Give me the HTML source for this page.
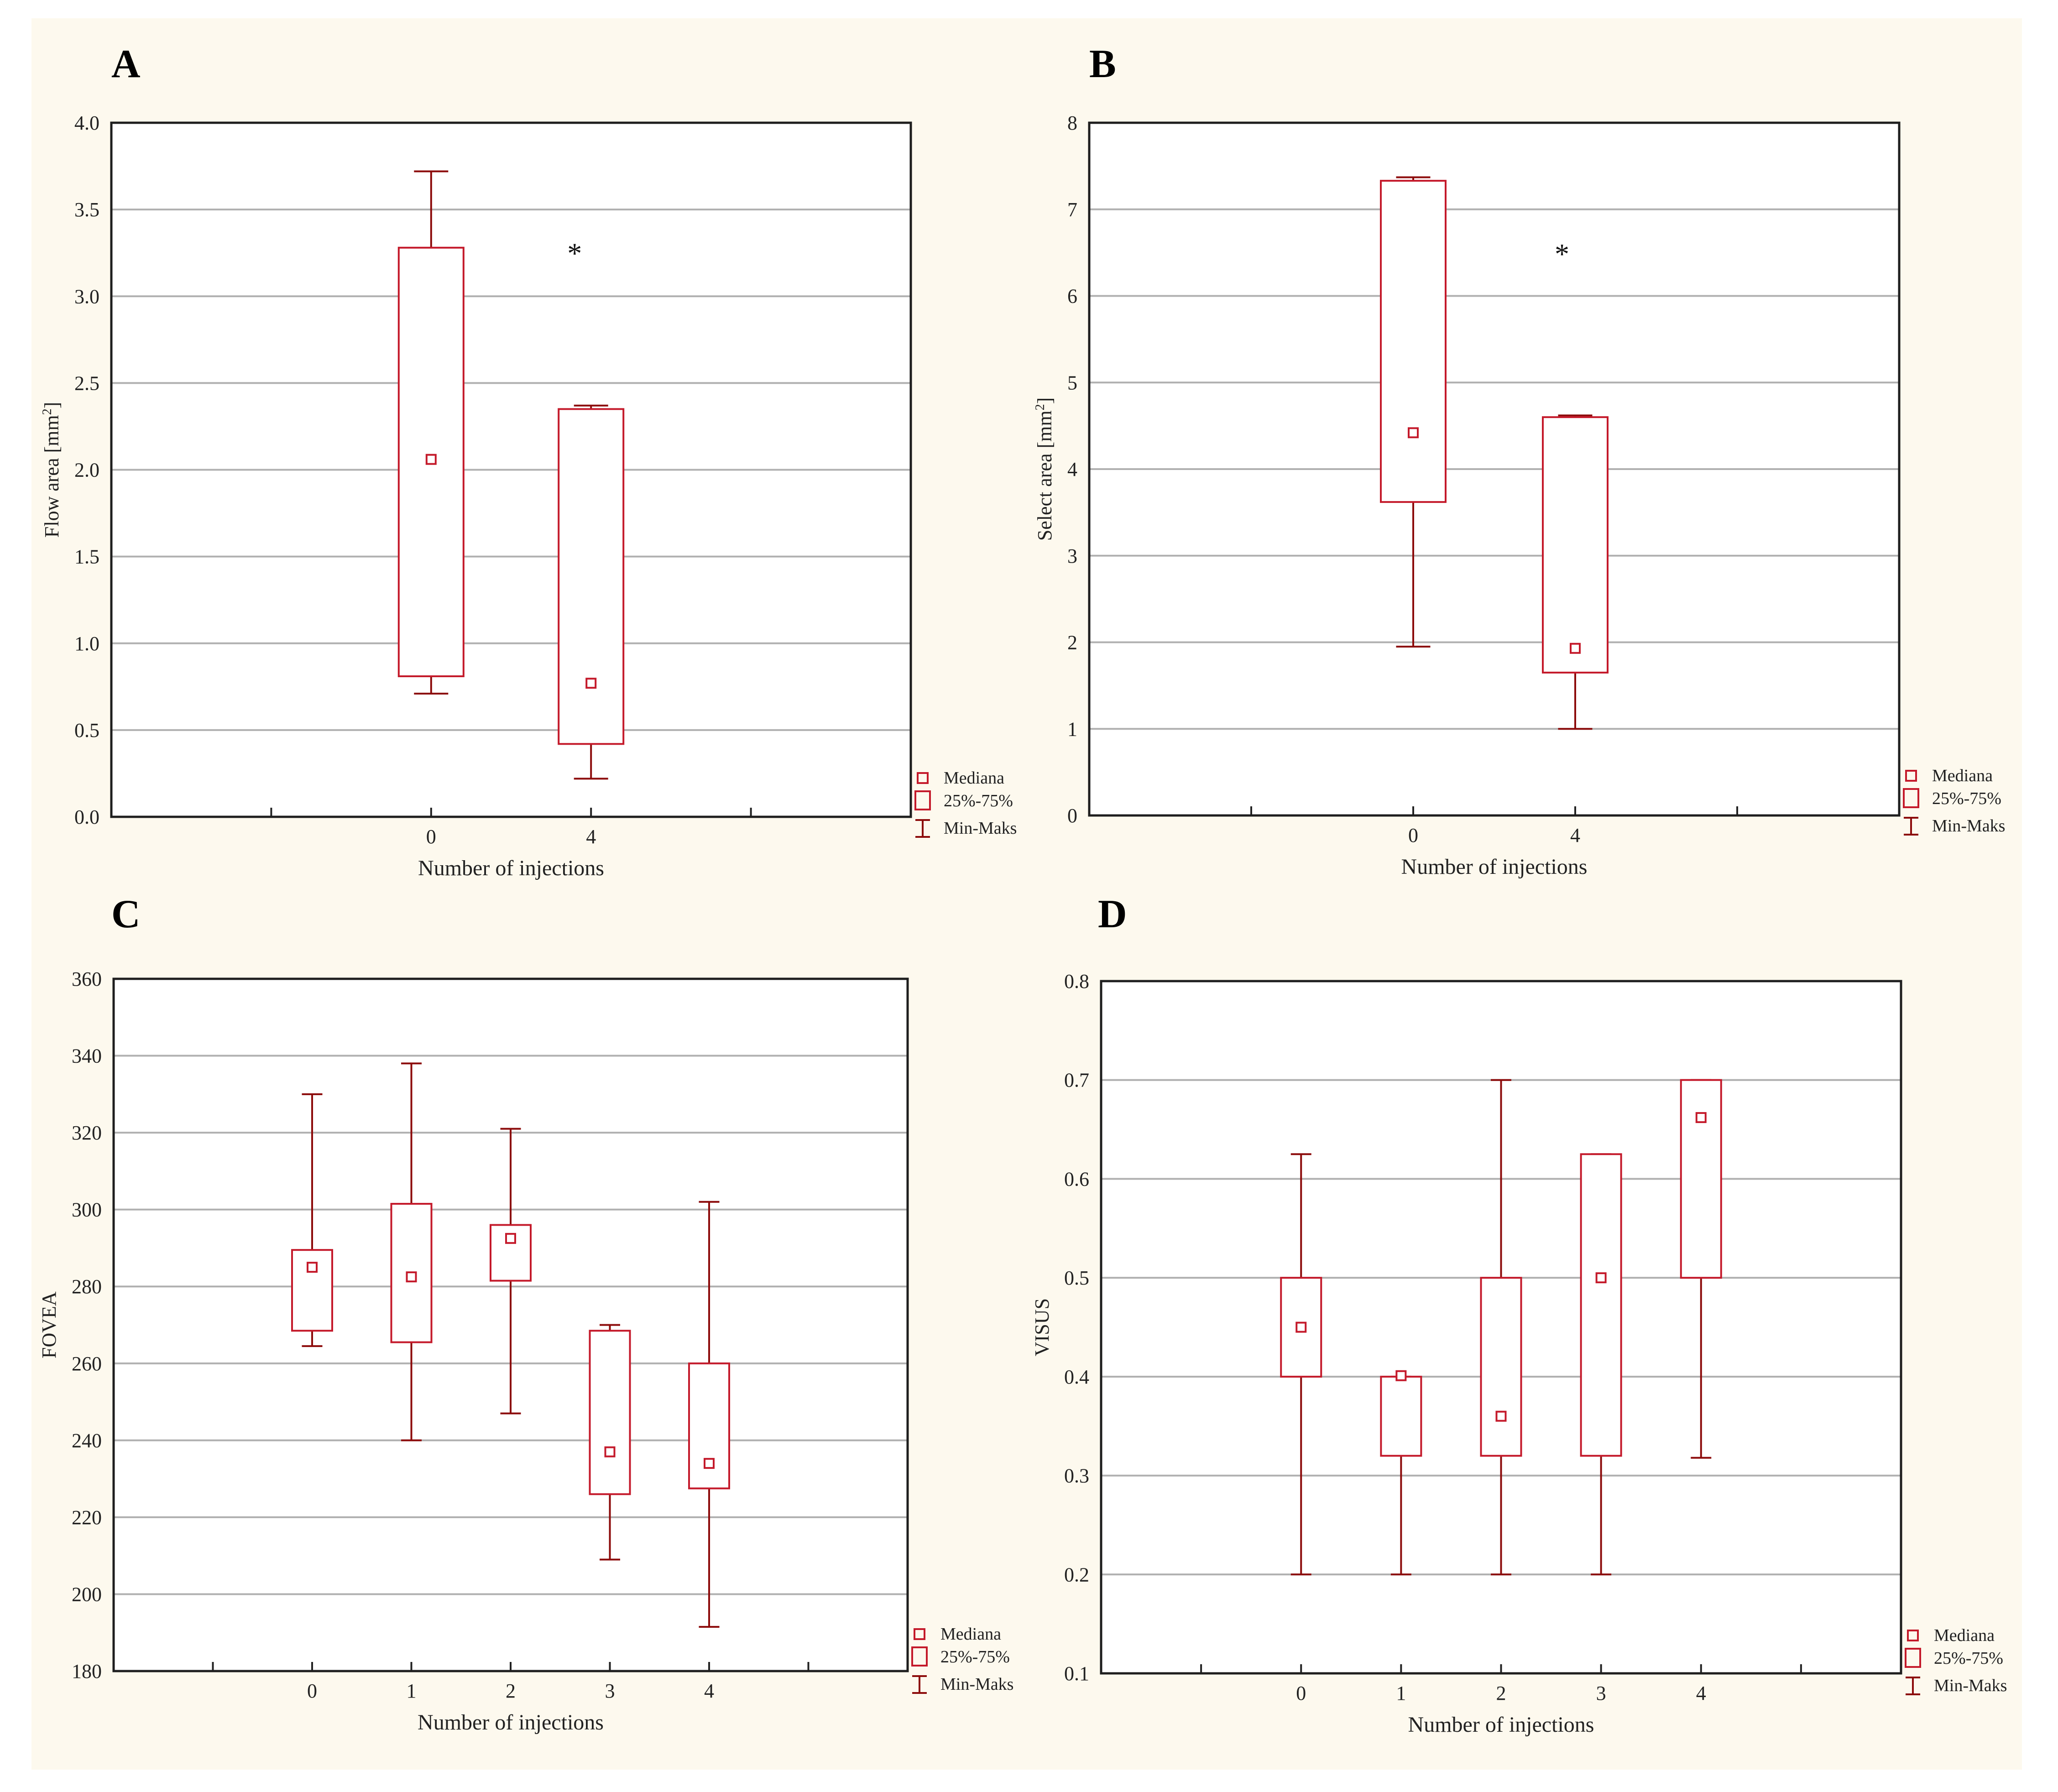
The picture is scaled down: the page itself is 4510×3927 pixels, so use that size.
<!DOCTYPE html>
<html><head><meta charset="utf-8"><style>
html,body{margin:0;padding:0;background:#fff;}
svg{display:block;font-family:"Liberation Serif",serif;}
</style></head><body>
<svg id="fig" width="4510" height="3927" viewBox="0 0 4510 3927" xmlns="http://www.w3.org/2000/svg">
<rect x="69" y="40" width="4362" height="3838" fill="#fdf9ee"/>
</svg>
<script>
// Panel A data
const catsA = ["0","4"];
const maxA = [3.72, 2.37];
const q3A = [3.28, 2.35];
const medA = [2.06, 0.77];
const q1A = [0.81, 0.42];
const minA = [0.71, 0.22];
const ticksA = ["0.0","0.5","1.0","1.5","2.0","2.5","3.0","3.5","4.0"];
// Panel B data
const catsB = ["0","4"];
const maxB = [7.37, 4.62];
const q3B = [7.33, 4.6];
const medB = [4.42, 1.93];
const q1B = [3.62, 1.65];
const minB = [1.95, 1.0];
const ticksB = ["0","1","2","3","4","5","6","7","8"];
// Panel C data
const catsC = ["0","1","2","3","4"];
const maxC = [330, 338, 321, 270, 302];
const q3C = [289.5, 301.5, 296, 268.5, 260];
const medC = [285, 282.5, 292.5, 237, 234];
const q1C = [268.5, 265.5, 281.5, 226, 227.5];
const minC = [264.5, 240, 247, 209, 191.5];
const ticksC = ["180","200","220","240","260","280","300","320","340","360"];
// Panel D data
const catsD = ["0","1","2","3","4"];
const maxD = [0.625, 0.4, 0.7, 0.625, 0.7];
const q3D = [0.5, 0.4, 0.5, 0.625, 0.7];
const medD = [0.45, 0.401, 0.36, 0.5, 0.662];
const q1D = [0.4, 0.32, 0.32, 0.32, 0.5];
const minD = [0.2, 0.2, 0.2, 0.2, 0.318];
const ticksD = ["0.1","0.2","0.3","0.4","0.5","0.6","0.7","0.8"];

const NS = "http://www.w3.org/2000/svg";
const svg = document.getElementById("fig");
const BOXC = "#c41a2b", WHC = "#8c0b0b";
function mk(tag, attrs, parent){
  const e = document.createElementNS(NS, tag);
  for (const k in attrs) e.setAttribute(k, attrs[k]);
  (parent||svg).appendChild(e);
  return e;
}
function panel(o){
  const g = mk("g", {});
  
  
  const {L,R,T,B} = o;
  const ticks = o.ticks.map(Number);
  const vmin = ticks[0], vmax = ticks[ticks.length-1];
  const y = v => B - (v - vmin) / (vmax - vmin) * (B - T);
  const slot = (R - L) / o.nslots;
  const x = i => L + slot * (i + o.offset);
  mk("rect", {x:L, y:T, width:R-L, height:B-T, fill:"#fff"}, g);
  // grid
  ticks.forEach((t, i) => {
    if (i > 0 && i < ticks.length - 1) {
      const ln = mk("line", {x1:L, x2:R, y1:y(t), y2:y(t), stroke:"#b0b0b0", "stroke-width":4}, g);
      
      
    }
    const tx = mk("text", {x:L-26, y:y(t)+15, "text-anchor":"end", "font-size":44, fill:"#222"}, g);
    
    
    tx.textContent = o.ticks[i];
  });
  // bottom ticks
  for (let k = 1; k < o.nslots; k++) {
    const tk = mk("line", {x1:L+slot*k, x2:L+slot*k, y1:B, y2:B-20, stroke:"#222", "stroke-width":4}, g);
    
    
  }
  // boxes
  o.cats.forEach((c, i) => {
    const cx = x(i);
    const bg = mk("g", {}, g);
    
    
    mk("line", {x1:cx, x2:cx, y1:y(o.max[i]), y2:y(o.q3[i]), stroke:WHC, "stroke-width":4}, bg);
    mk("line", {x1:cx, x2:cx, y1:y(o.q1[i]), y2:y(o.min[i]), stroke:WHC, "stroke-width":4}, bg);
    mk("line", {x1:cx-o.cw/2, x2:cx+o.cw/2, y1:y(o.max[i]), y2:y(o.max[i]), stroke:WHC, "stroke-width":4}, bg);
    mk("line", {x1:cx-o.cw/2, x2:cx+o.cw/2, y1:y(o.min[i]), y2:y(o.min[i]), stroke:WHC, "stroke-width":4}, bg);
    mk("rect", {x:cx-o.bw/2, y:y(o.q3[i]), width:o.bw, height:y(o.q1[i])-y(o.q3[i]), fill:"#fff", stroke:BOXC, "stroke-width":4}, bg);
    mk("rect", {x:cx-10, y:y(o.med[i])-10, width:20, height:20, fill:"#fff", stroke:BOXC, "stroke-width":4}, bg);
    const tl = mk("text", {x:cx, y:B+58, "text-anchor":"middle", "font-size":44, fill:"#222"}, g);
    
    
    tl.textContent = c;
  });
  // frame
  mk("rect", {x:L, y:T, width:R-L, height:B-T, fill:"none", stroke:"#1e1e1e", "stroke-width":5}, g);
  // titles
  const lt = mk("text", {x:o.lx, y:o.ly, "font-size":88, "font-weight":"bold", fill:"#000"}, g);
  
  
  lt.textContent = o.id;
  const xt = mk("text", {x:(L+R)/2, y:B+128, "text-anchor":"middle", "font-size":48, fill:"#222"}, g);
  
  
  xt.textContent = "Number of injections";
  const yt = mk("text", {x:0, y:0, "text-anchor":"middle", "font-size":44, fill:"#222", transform:`translate(${o.yx},${(T+B)/2}) rotate(-90)`}, g);
  
  
  yt.innerHTML = o.ylab;
  if (o.star) {
    const st = mk("text", {x:x(1)-o.star.dx, y:y(o.star.v)+30, "text-anchor":"middle", "font-size":64, fill:"#111"}, g);
    
    
    st.textContent = "*";
  }
  // legend
  const lg = mk("g", {}, g);
  
  
  const mx = R + 26, tx0 = R + 72, ly = o.legY;
  mk("rect", {x:mx-11, y:ly-11, width:22, height:22, fill:"none", stroke:BOXC, "stroke-width":4}, lg);
  mk("rect", {x:mx-16, y:ly+29, width:32, height:40, fill:"none", stroke:BOXC, "stroke-width":4}, lg);
  mk("line", {x1:mx, x2:mx, y1:ly+92, y2:ly+129, stroke:WHC, "stroke-width":4}, lg);
  mk("line", {x1:mx-16, x2:mx+16, y1:ly+92, y2:ly+92, stroke:WHC, "stroke-width":4}, lg);
  mk("line", {x1:mx-16, x2:mx+16, y1:ly+129, y2:ly+129, stroke:WHC, "stroke-width":4}, lg);
  [["Mediana",ly+12],["25%-75%",ly+62],["Min-Maks",ly+122]].forEach(([t,yy]) => {
    const e = mk("text", {x:tx0, y:yy, "font-size":38, fill:"#222"}, lg);
    
    
    e.textContent = t;
  });
}
panel({id:"A", L:244, R:1996, T:269, B:1790, nslots:5, offset:2, cats:catsA, max:maxA, q3:q3A, med:medA, q1:q1A, min:minA, ticks:ticksA, bw:142, cw:75, lx:244, ly:169, yx:128, ylab:'Flow area [mm<tspan font-size="28" dy="-16">2</tspan><tspan dy="16">]</tspan>', star:{v:3.27, dx:36}, legY:1705});
panel({id:"B", L:2387, R:4162, T:269, B:1787, nslots:5, offset:2, cats:catsB, max:maxB, q3:q3B, med:medB, q1:q1B, min:minB, ticks:ticksB, bw:142, cw:75, lx:2387, ly:169, yx:2304, ylab:'Select area [mm<tspan font-size="28" dy="-16">2</tspan><tspan dy="16">]</tspan>', star:{v:6.53, dx:29}, legY:1700});
panel({id:"C", L:249, R:1989, T:2145, B:3662, nslots:8, offset:2, cats:catsC, max:maxC, q3:q3C, med:medC, q1:q1C, min:minC, ticks:ticksC, bw:88, cw:45, lx:244, ly:2032, yx:122, ylab:'FOVEA', legY:3581});
panel({id:"D", L:2413, R:4166, T:2150, B:3667, nslots:8, offset:2, cats:catsD, max:maxD, q3:q3D, med:medD, q1:q1D, min:minD, ticks:ticksD, bw:88, cw:45, lx:2406, ly:2032, yx:2298, ylab:'VISUS', legY:3584});
</script>
</body></html>
